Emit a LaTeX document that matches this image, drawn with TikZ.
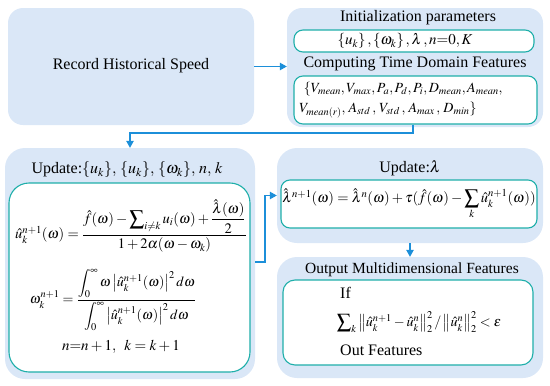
\documentclass[tikz,border=0pt]{standalone}
\usepackage{amsmath}
\usepackage{graphicx}
\usepackage{mathptmx}
\usepackage{fontspec}
\setmainfont{Liberation Serif}
\usetikzlibrary{arrows.meta}
\definecolor{boxblue}{HTML}{DAE7F7}
\definecolor{tealc}{HTML}{1FAFAA}
\definecolor{arrowblue}{HTML}{1C8FD9}
\newcommand{\bigsigma}{\mathop{\vcenter{\hbox{\scalebox{1.45}{$\sum$}}}}}
\tikzset{
  outerbox/.style={rectangle, rounded corners=15pt, fill=boxblue, draw=none, inner sep=0pt},
  innerbox/.style={rectangle, rounded corners=9pt, draw=tealc, line width=1.1pt, fill=white, inner sep=0pt},
  conn/.style={draw=arrowblue, line width=1.2pt, -{Triangle[length=7pt,width=7.5pt]}},
  ttl/.style={inner sep=0pt, font=\fontsize{15.5}{18}\selectfont},
  eqn/.style={inner sep=0pt, font=\fontsize{15}{18}\selectfont},
}
\begin{document}
\begin{tikzpicture}[x=1pt,y=-1pt]
\useasboundingbox (0,0) rectangle (550,386);
% Box 1
\node[outerbox, minimum width=246pt, minimum height=117pt] (b1) at (131,66.5) {};
\node[ttl, font=\fontsize{16}{18}\selectfont] (t1) at (131,66) {Record Historical Speed};
% Box 2
\node[outerbox, minimum width=256pt, minimum height=119pt] (b2) at (415,67.5) {};
\node[ttl, font=\fontsize{16}{18}\selectfont] (t2a) at (418,18) {Initialization parameters};
\node[innerbox, minimum width=240pt, minimum height=22pt] (in1) at (414,41) {};
\node[eqn] (e1) at (405,41) {$\{u_k\}\,,\{\omega_k\}\,,\lambda\,,n{=}0,K$};
\node[ttl, font=\fontsize{16}{18}\selectfont] (t2b) at (415,64) {Computing Time Domain Features};
\node[innerbox, minimum width=243pt, minimum height=48pt] (in2) at (415.5,100) {};
\node[eqn, font=\fontsize{14}{17}\selectfont, align=left, anchor=west] (e2) at (299,100) {$\;\,\{V_{mean},V_{max},P_a,P_d,P_i,D_{mean},A_{mean},$\\[3pt] $V_{mean(r)},\,A_{std}\,,\,V_{std}\,,\,A_{max}\,,\,D_{min}\}$};
% Box 3
\node[outerbox, rounded corners=20pt, minimum width=250pt, minimum height=231pt] (b3) at (130,263.5) {};
\node[ttl, font=\fontsize{16}{18}\selectfont] (t3) at (127,170) {Update:$\{u_k\},\,\{u_k\},\,\{\omega_k\},\,n,\,k$};
\node[innerbox, rounded corners=20pt, minimum width=241pt, minimum height=189pt] (in3) at (129.5,277.5) {};
\node[eqn, font=\fontsize{14.5}{17}\selectfont] (e3) at (131,226) {$\hat u_k^{n+1}(\omega)=\dfrac{\hat f(\omega)-\bigsigma\nolimits_{i\neq k}u_i(\omega)+\dfrac{\hat\lambda(\omega)}{2}}{1+2\alpha(\omega-\omega_k)}$};
\node[eqn, font=\fontsize{14}{17}\selectfont] (e4) at (113,300) {$\omega_k^{n+1}=\dfrac{\displaystyle\int_0^\infty \omega\left|\hat u_k^{n+1}(\omega)\right|^2 d\omega}{\displaystyle\int_0^\infty \left|\hat u_k^{n+1}(\omega)\right|^2 d\omega}$};
\node[eqn] (e5) at (121,347) {$n{=}n+1,\;\; k=k+1$};
% Box 4
\node[outerbox, rounded corners=20pt, minimum width=266pt, minimum height=95pt] (b4) at (410,195.5) {};
\node[ttl, font=\fontsize{16}{18}\selectfont] (t4) at (410,168) {Update:$\lambda$};
\node[innerbox, minimum width=256pt, minimum height=48pt] (in4) at (409,204) {};
\node[eqn, font=\fontsize{14.5}{17}\selectfont] (e6) at (409,204) {$\hat\lambda^{n+1}(\omega)=\hat\lambda^{n}(\omega)+\tau(\hat f(\omega)-\displaystyle\sum_k\hat u_k^{n+1}(\omega))$};
% Box 5
\node[outerbox, rounded corners=20pt, minimum width=266pt, minimum height=121pt] (b5) at (410,317.5) {};
\node[ttl] (t5) at (412,270) {Output Multidimensional Features};
\node[innerbox, rounded corners=12pt, minimum width=250pt, minimum height=85pt] (in5) at (408,322.5) {};
\node[ttl, font=\fontsize{16}{18}\selectfont, anchor=west] (t6) at (340,293) {If};
\node[eqn, font=\fontsize{14}{17}\selectfont] (e7) at (419,322) {$\bigsigma\nolimits_k\left\|\hat u_k^{n+1}-\hat u_k^{n}\right\|_2^2/\left\|\hat u_k^{n}\right\|_2^2<\varepsilon$};
\node[ttl, font=\fontsize{16}{18}\selectfont, anchor=west] (t7) at (340,350) {Out Features};
% Connectors
\draw[conn] (b1.east) -- (b2.west |- b1.east);
\coordinate (c1) at (413,133);
\draw[conn] (in2.south -| c1) -- (c1) -| (b3.north);
\coordinate (c2) at (265,262);
\draw[conn] (b3.east |- c2) -- (c2) |- (b4.west);
\draw[conn] (b4.south) -- (b5.north);
\end{tikzpicture}
\end{document}
